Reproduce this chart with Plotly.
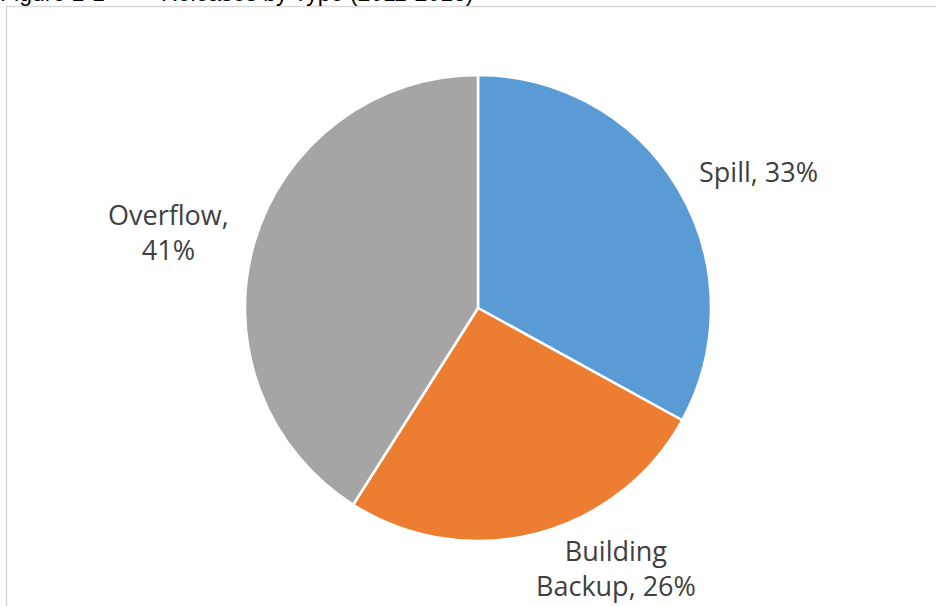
import plotly.graph_objects as go

# Share of releases by type
categories = ["Spill", "Building Backup", "Overflow"]
shares = [33, 26, 41]
colors = ["#5B9BD5", "#ED7D31", "#A5A5A5"]
label_text = ["Spill, 33%", "Building<br>Backup, 26%", "Overflow,<br>41%"]

W, H = 936, 606
cx, cy, r = 478, 308, 233  # pie centre and radius in pixels

fig = go.Figure(
    go.Pie(
        labels=categories,
        values=shares,
        sort=False,
        direction="clockwise",
        rotation=0,
        marker=dict(colors=colors, line=dict(color="white", width=2.5)),
        textinfo="none",
        hoverinfo="label+percent",
        showlegend=False,
        domain=dict(
            x=[(cx - r) / W, (cx + r) / W],
            y=[(H - cy - r) / H, (H - cy + r) / H],
        ),
    )
)

# Outside data labels
label_pos = [(758, 171), (616, 568), (168, 232)]
font = dict(family="Open Sans, Liberation Sans, sans-serif", size=27, color="#404040")
annotations = []
for txt, (px, py) in zip(label_text, label_pos):
    annotations.append(
        dict(
            x=px / W, y=1 - py / H, xref="paper", yref="paper",
            text=txt, showarrow=False, font=font, align="center",
            xanchor="center", yanchor="middle",
        )
    )

# Figure caption above the chart frame
title_font = dict(family="Liberation Sans, sans-serif", size=23, color="#000000")
annotations.append(dict(x=0, y=1, xref="paper", yref="paper", text="Figure 1-1",
                        showarrow=False, font=title_font, xanchor="left",
                        yanchor="bottom", yshift=-8, xshift=-2))
annotations.append(dict(x=475 / W, y=1, xref="paper", yref="paper",
                        text="Releases by Type (2011-2016)",
                        showarrow=False, font=title_font, xanchor="right",
                        yanchor="bottom", yshift=-8))

fig.update_layout(
    width=W, height=H,
    margin=dict(l=0, r=0, t=0, b=0),
    paper_bgcolor="white",
    plot_bgcolor="white",
    annotations=annotations,
    shapes=[
        dict(type="rect", xref="paper", yref="paper",
             x0=6.5 / W, x1=1.02, y0=-0.02, y1=1 - 6.5 / H,
             line=dict(color="#D9D9D9", width=1.5), fillcolor="rgba(0,0,0,0)",
             layer="below")
    ],
)

fig.write_html("out.html")
